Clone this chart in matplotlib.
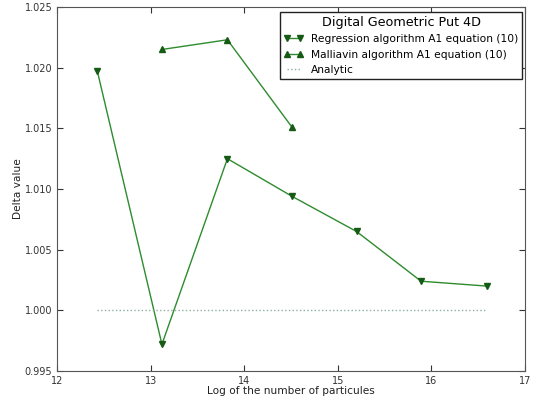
import numpy as np
import matplotlib
matplotlib.use("Agg")
import matplotlib.pyplot as plt

reg_x = [12.43, 13.12, 13.82, 14.51, 15.20, 15.89, 16.59]
reg_y = [1.0197, 0.9972, 1.0125, 1.0094, 1.0065, 1.0024, 1.0020]
mal_x = [13.12, 13.82, 14.51]
mal_y = [1.0215, 1.0223, 1.0151]
ana_x = [12.43, 16.59]
ana_y = [1.0, 1.0]

fig = plt.figure(figsize=(5.34, 4.03), dpi=100)
ax = fig.add_axes([0.107, 0.0794, 0.876, 0.9032])

line_c = "#2e8b2e"
mk_c = "#155a15"
ax.plot(reg_x, reg_y, color=line_c, lw=1.0, marker="v", ms=5,
        mfc=mk_c, mec=mk_c, label="Regression algorithm A1 equation (10)")
ax.plot(mal_x, mal_y, color=line_c, lw=1.0, marker="^", ms=5,
        mfc=mk_c, mec=mk_c, label="Malliavin algorithm A1 equation (10)")
ax.plot(ana_x, ana_y, color="#8fb0a0", lw=1.0, ls=":", label="Analytic")

ax.set_xlim(12, 17)
ax.set_ylim(0.995, 1.025)
ax.set_xticks([12, 13, 14, 15, 16, 17])
ax.set_yticks(np.arange(0.995, 1.0251, 0.005))
ax.set_yticklabels(["0.995", "1.000", "1.005", "1.010", "1.015", "1.020", "1.025"])
ax.tick_params(direction="in", top=True, right=True, labelsize=7, colors="#333333", length=4)
for s in ax.spines.values():
    s.set_color("#555555")
ax.set_xlabel("Log of the number of particules", fontsize=7.6, color="#222222", labelpad=0)
ax.set_ylabel("Delta value", fontsize=7.6, color="#222222", labelpad=1)

leg = ax.legend(title="Digital Geometric Put 4D", loc="upper right",
                bbox_to_anchor=(0.9936, 0.986), borderaxespad=0,
                fontsize=7.7, title_fontsize=9.2, fancybox=False, edgecolor="#222222",
                handlelength=1.8, handletextpad=0.7, labelspacing=0.5,
                borderpad=0.35, framealpha=1, numpoints=2)
leg.get_frame().set_linewidth(1.0)

fig.savefig("out.png", dpi=100, facecolor="white")
